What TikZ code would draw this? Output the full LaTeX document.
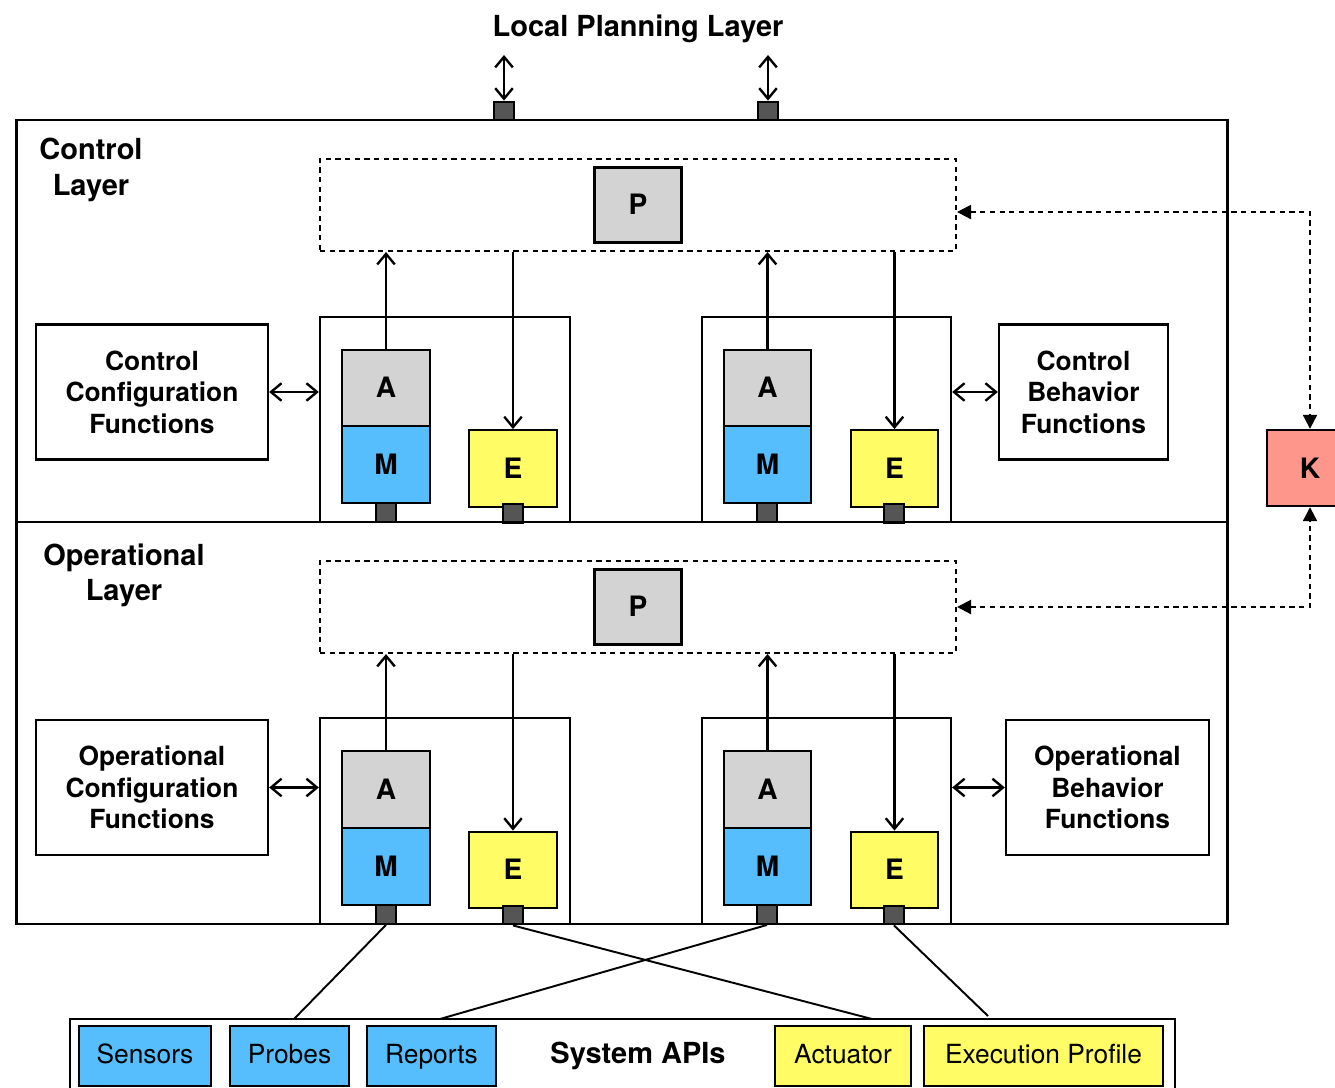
\documentclass[tikz,border=0pt]{standalone}
\usepackage{fontspec}
\setmainfont{TeX Gyre Heros}
\usetikzlibrary{arrows.meta}

\definecolor{agray}{RGB}{211,211,211}
\definecolor{mblue}{RGB}{86,190,253}
\definecolor{eyellow}{RGB}{255,252,102}
\definecolor{portgray}{RGB}{85,85,85}
\definecolor{kred}{RGB}{255,150,140}

\tikzset{
  box/.style={draw, inner sep=0pt, align=center, font=\fontsize{15}{16}\selectfont\bfseries},
  layer/.style={draw, line width=1.6pt, inner sep=0pt},
  plane/.style={draw, line width=1.2pt, dash pattern=on 3pt off 2.5pt, inner sep=0pt, minimum width=12.72cm, minimum height=1.84cm},
  blk/.style={box, minimum width=1.76cm, minimum height=1.53cm, text height=11pt, text depth=0pt, font=\fontsize{16}{19}\selectfont\bfseries},
  port/.style={draw, fill=portgray, minimum width=0.4cm, minimum height=0.37cm, inner sep=0pt},
  api/.style={draw, line width=0.9pt, minimum height=1.2cm, inner sep=0pt, text height=11pt, text depth=3pt, font=\fontsize{15}{18}\selectfont},
  title/.style={align=center, font=\fontsize{16.5}{20}\selectfont\bfseries},
  kline/.style={line width=1.2pt, dash pattern=on 3pt off 2.5pt, arrows={Triangle[length=8pt,width=8pt]-Triangle[length=8pt,width=8pt]}}
}

\begin{document}
\begin{tikzpicture}[x=0.02cm,y=-0.02cm,line width=1.35pt,>={Straight Barb[length=6pt,width=10pt]}]
\useasboundingbox (0,0) rectangle (1335,1088);
\clip (0,0) rectangle (1335,1088);

\node[title] (lpl) at (638,29) {Local Planning Layer};
\coordinate (lp1) at (504,55);
\coordinate (lp2) at (768,55);

% control layer
\node[layer, minimum width=24.24cm, minimum height=8.04cm] (ctrl) at (622,321) {};
\node[title] (ctrllbl) at (91,170) {Control\\Layer};
\node[plane] (pc) at (638,205) {};
\node[blk, fill=agray, minimum width=1.74cm, minimum height=1.5cm] (pc1) at (638,205) {P};
\node[draw, minimum width=5cm, minimum height=4.1cm] (mc1) at (445,419.5) {};
\node[draw, minimum width=4.98cm, minimum height=4.1cm] (mc2) at (826.5,419.5) {};
\node[blk, fill=agray] (ac1) at (386,388) {A};
\node[blk, fill=mblue] (mmc1) at (386,464.5) {M};
\node[blk, fill=eyellow] (ec1) at (513,468.5) {E};
\node[blk, fill=agray, minimum width=1.74cm] (ac2) at (767.5,388) {A};
\node[blk, fill=mblue, minimum width=1.74cm] (mmc2) at (767.5,464.5) {M};
\node[blk, fill=eyellow, minimum width=1.74cm] (ec2) at (894.5,468.5) {E};
\node[port] at (386,512.5) {};
\node[port] at (513,513.5) {};
\node[port] at (767,512.5) {};
\node[port] at (894,513.5) {};
\node[box, minimum width=4.64cm, minimum height=2.7cm] (ccf) at (152,392) {Control\\[2pt]Configuration\\[2pt]Functions};
\node[box, minimum width=3.38cm, minimum height=2.7cm] (cbf) at (1083.5,392) {Control\\[2pt]Behavior\\[2pt]Functions};
\node[port] (tp1) at (504,111) {};
\node[port] (tp2) at (768,111) {};

% operational layer
\node[layer, minimum width=24.24cm, minimum height=8.04cm] (oper) at (622,723) {};
\node[title] (operlbl) at (124,575) {Operational\\Layer};
\node[plane] (po) at (638,607) {};
\node[blk, fill=agray, minimum width=1.74cm, minimum height=1.5cm] (po1) at (638,607) {P};
\node[draw, minimum width=5cm, minimum height=4.12cm] (mo1) at (445,821) {};
\node[draw, minimum width=4.98cm, minimum height=4.12cm] (mo2) at (826.5,821) {};
\node[blk, fill=agray] (ao1) at (386,789.5) {A};
\node[blk, fill=mblue] (mmo1) at (386,866.5) {M};
\node[blk, fill=eyellow] (eo1) at (513,870) {E};
\node[blk, fill=agray, minimum width=1.74cm] (ao2) at (767.5,789.5) {A};
\node[blk, fill=mblue, minimum width=1.74cm] (mmo2) at (767.5,866.5) {M};
\node[blk, fill=eyellow, minimum width=1.74cm] (eo2) at (894.5,870) {E};
\node[port] (pm1) at (386,914.5) {};
\node[port] (pe1) at (513,915) {};
\node[port] (pm2) at (767,914.5) {};
\node[port] (pe2) at (894,915) {};
\node[box, minimum width=4.64cm, minimum height=2.7cm] (ocf) at (152,787.5) {Operational\\[2pt]Configuration\\[2pt]Functions};
\node[box, minimum width=4.06cm, minimum height=2.7cm] (obf) at (1107.5,787.5) {Operational\\[2pt]Behavior\\[2pt]Functions};

\node[box, fill=kred, minimum width=1.72cm, minimum height=1.52cm, font=\fontsize{16}{19}\selectfont\bfseries] (k) at (1310,468) {K};

% system apis
\node[draw, minimum width=22.1cm, minimum height=1.8cm] (sys) at (622.5,1064) {};
\node[title] (syslbl) at (638,1056) {System APIs};
\node[api, fill=mblue, minimum width=2.64cm] (sensors) at (145,1056) {Sensors};
\node[api, fill=mblue, minimum width=2.38cm] (probes) at (289.5,1056) {Probes};
\node[api, fill=mblue, minimum width=2.58cm] (reports) at (431.5,1056) {Reports};
\node[api, fill=eyellow, minimum width=2.72cm] (actuator) at (843,1056) {Actuator};
\node[api, fill=eyellow, minimum width=4.78cm] (exprof) at (1043.5,1056) {Execution Profile};
\coordinate (s1) at (294,1019);
\coordinate (s2) at (440,1019);
\coordinate (s3) at (872,1019);
\coordinate (s4) at (988,1016);

\draw[<->] (lp1) -- (tp1.north);
\draw[<->] (lp2) -- (tp2.north);

\draw[->] (ac1.north) -- (ac1.north |- pc.south);
\draw[->] (ec1.north |- pc.south) -- (ec1.north);
\draw[->] (ac2.north) -- (ac2.north |- pc.south);
\draw[->] (ec2.north |- pc.south) -- (ec2.north);
\draw[->] (ao1.north) -- (ao1.north |- po.south);
\draw[->] (eo1.north |- po.south) -- (eo1.north);
\draw[->] (ao2.north) -- (ao2.north |- po.south);
\draw[->] (eo2.north |- po.south) -- (eo2.north);

\draw[<->] (ccf.east) -- (ccf.east -| mc1.west);
\draw[<->] (mc2.east |- cbf.west) -- (cbf.west);
\draw[<->] (ocf.east) -- (ocf.east -| mo1.west);
\draw[<->] (mo2.east |- obf.west) -- (obf.west);

\draw[kline] ([yshift=-4pt]pc.east) -- ([yshift=-4pt]pc.east -| k.north) -- (k.north);
\draw[kline] (po.east) -- (po.east -| k.south) -- (k.south);

\draw[line width=1.1pt] (pm1.south) -- (s1);
\draw[line width=1.1pt] (pe1.south) -- (s3);
\draw[line width=1.1pt] (pm2.south) -- (s2);
\draw[line width=1.1pt] (pe2.south) -- (s4);

\end{tikzpicture}
\end{document}
